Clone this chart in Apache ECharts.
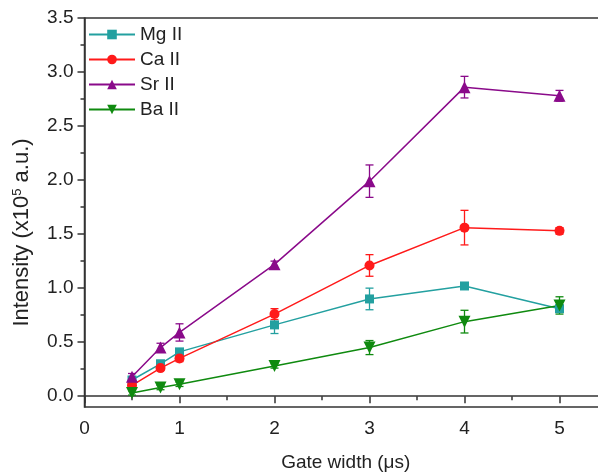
<!DOCTYPE html>
<html>
<head>
<meta charset="utf-8">
<script src="https://cdn.jsdelivr.net/npm/echarts@6/dist/echarts.min.js"></script>
<style>
html, body { margin: 0; padding: 0; background: #fff; }
#chart { width: 598px; height: 475px; }
</style>
</head>
<body>
<div id="chart"></div>
<script>
var gate = [0.5, 0.8, 1, 2, 3, 4, 5];

var mg = [0.15, 0.30, 0.41, 0.66, 0.90, 1.02, 0.81];
var mgErr = [0.02, 0.03, 0.03, 0.08, 0.10, 0.02, 0.03];
var ca = [0.10, 0.26, 0.35, 0.76, 1.21, 1.56, 1.53];
var caErr = [0.02, 0.02, 0.03, 0.05, 0.10, 0.16, 0.03];
var sr = [0.18, 0.45, 0.59, 1.22, 1.99, 2.86, 2.78];
var srErr = [0.03, 0.04, 0.08, 0.03, 0.15, 0.10, 0.05];
var ba = [0.03, 0.08, 0.11, 0.28, 0.45, 0.69, 0.84];
var baErr = [0.02, 0.02, 0.02, 0.02, 0.065, 0.105, 0.08];

var xMajor = [0, 1, 2, 3, 4, 5];
var xMinor = [0.5, 1.5, 2.5, 3.5, 4.5];
var yMajor = [0, 0.5, 1, 1.5, 2, 2.5, 3, 3.5];
var yMinor = [0.25, 0.75, 1.25, 1.75, 2.25, 2.75, 3.25];

var font = 'Liberation Sans, Arial, sans-serif';
var axisColor = '#333';
var textColor = '#222';

function pairs(ys) {
    return gate.map(function (x, i) { return [x, ys[i]]; });
}
function bars(ys, errs) {
    return gate.map(function (x, i) { return [x, ys[i] - errs[i], ys[i] + errs[i]]; });
}

function errorItem(params, api) {
    var x = api.value(0);
    var top = api.coord([x, api.value(2)]);
    var bot = api.coord([x, api.value(1)]);
    var w = 4;
    var style = { stroke: api.visual('color'), lineWidth: 1.3 };
    return {
        type: 'group',
        children: [
            { type: 'line', shape: { x1: top[0], y1: top[1], x2: bot[0], y2: bot[1] }, style: style },
            { type: 'line', shape: { x1: top[0] - w, y1: top[1], x2: top[0] + w, y2: top[1] }, style: style },
            { type: 'line', shape: { x1: bot[0] - w, y1: bot[1], x2: bot[0] + w, y2: bot[1] }, style: style }
        ]
    };
}

function lineSeries(name, ys, color, symbol, size, rotate) {
    return {
        name: name,
        type: 'line',
        data: pairs(ys),
        symbol: symbol,
        symbolSize: size,
        symbolRotate: rotate || 0,
        z: 3,
        itemStyle: { color: color },
        lineStyle: { color: color, width: 1.5 }
    };
}
function errSeries(name, ys, errs, color) {
    return {
        name: name + ' err',
        type: 'custom',
        renderItem: errorItem,
        data: bars(ys, errs),
        z: 2,
        itemStyle: { color: color },
        encode: { x: 0, y: [1, 2] }
    };
}

var chart = echarts.init(document.getElementById('chart'));

// right edge of the frame sits outside the picture
var gridBox = { left: 84.5, top: 18, width: 522.5, height: 389, outerBoundsMode: 'none', containLabel: false };
var xMax = 5.5;

chart.setOption({
    animation: false,
    backgroundColor: '#fff',
    textStyle: { fontFamily: font },
    grid: [
        Object.assign({ show: true, borderColor: axisColor, borderWidth: 1.5 }, gridBox),
        Object.assign({ show: false }, gridBox)
    ],
    legend: {
        orient: 'vertical',
        left: 83,
        top: 20,
        itemWidth: 46,
        itemHeight: 12,
        itemGap: 6,
        data: ['Mg II', 'Ca II', 'Sr II', 'Ba II'],
        textStyle: { fontSize: 19, color: textColor, fontFamily: font }
    },
    xAxis: [
        {
            type: 'value',
            gridIndex: 0,
            min: 0,
            max: xMax,
            name: 'Gate width (μs)',
            nameLocation: 'middle',
            nameGap: 46,
            nameTextStyle: { fontSize: 19, color: textColor, fontFamily: font },
            axisLine: { show: true, lineStyle: { color: axisColor, width: 1.5 } },
            axisTick: { show: true, length: 7, customValues: xMajor, lineStyle: { color: axisColor, width: 1.5 } },
            axisLabel: { customValues: xMajor, fontSize: 19, color: textColor, margin: 12, fontFamily: font },
            splitLine: { show: false }
        },
        {
            type: 'value',
            gridIndex: 1,
            min: 0,
            max: xMax,
            axisLine: { show: false },
            axisTick: { show: true, length: 4, customValues: xMinor, lineStyle: { color: axisColor, width: 1.5 } },
            axisLabel: { show: false },
            splitLine: { show: false }
        }
    ],
    yAxis: [
        {
            type: 'value',
            gridIndex: 0,
            min: -0.1,
            max: 3.5,
            name: 'Intensity (x10{sup|5} a.u.)',
            nameLocation: 'middle',
            nameGap: 52,
            nameTextStyle: {
                fontSize: 22, color: textColor, fontFamily: font,
                padding: [0, 40, 0, 0],
                rich: { sup: { fontSize: 13, verticalAlign: 'top', color: textColor, padding: [0, 0, 9, 0] } }
            },
            axisLine: { show: true, lineStyle: { color: axisColor, width: 1.5 } },
            axisTick: { show: true, length: 7, customValues: yMajor, lineStyle: { color: axisColor, width: 1.5 } },
            axisLabel: {
                customValues: yMajor, fontSize: 19, color: textColor, margin: 11, fontFamily: font,
                formatter: function (v) { return v.toFixed(1); }
            },
            splitLine: { show: false }
        },
        {
            type: 'value',
            gridIndex: 1,
            min: -0.1,
            max: 3.5,
            axisLine: { show: false },
            axisTick: { show: true, length: 4, customValues: yMinor, lineStyle: { color: axisColor, width: 1.5 } },
            axisLabel: { show: false },
            splitLine: { show: false }
        }
    ],
    series: [
        errSeries('Mg II', mg, mgErr, '#23a0a0'),
        errSeries('Ca II', ca, caErr, '#ff1a1a'),
        errSeries('Sr II', sr, srErr, '#8a0a8a'),
        errSeries('Ba II', ba, baErr, '#0f8a0f'),
        lineSeries('Mg II', mg, '#23a0a0', 'rect', 9),
        lineSeries('Ca II', ca, '#ff1a1a', 'circle', 10),
        lineSeries('Sr II', sr, '#8a0a8a', 'triangle', 12),
        lineSeries('Ba II', ba, '#0f8a0f', 'triangle', 12, 180)
    ]
});
</script>
</body>
</html>
